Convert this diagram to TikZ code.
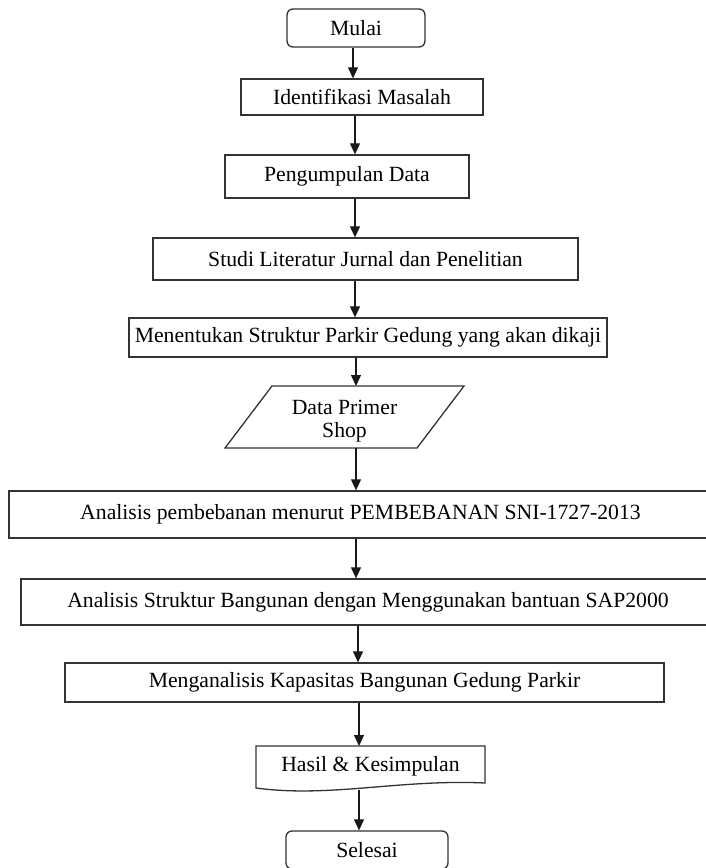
\documentclass[tikz,border=0pt]{standalone}
\usepackage{fontspec}
\setmainfont{Liberation Serif}
\usetikzlibrary{arrows.meta}
\begin{document}
\begin{tikzpicture}[x=0.5pt,y=-0.5pt,
  txt/.style={font=\fontsize{10.85}{11.5}\selectfont},
  box/.style={txt,draw=black!80,line width=0.65pt,rectangle,inner sep=0pt},
  term/.style={box,rounded corners=3pt},
  plain/.style={txt,inner sep=0pt,align=center},
  shapeline/.style={draw=black!80,line width=0.65pt},
  arr/.style={draw=black!90,line width=0.55pt,-{Triangle[length=5.5pt,width=5pt]}},
]
\useasboundingbox (0,0) rectangle (706,868);

% column coordinates for the connectors
\coordinate (cA) at (353,0);
\coordinate (cB) at (355,0);
\coordinate (cC) at (356,0);
\coordinate (cD) at (358,0);
\coordinate (dtop) at (356,386);
\coordinate (dbot) at (356,448);
\coordinate (htop) at (359,746);
\coordinate (hbot) at (359,790);

\node[term, minimum width=69pt, minimum height=19pt] (mulai) at (356,28) {Mulai};
\node[box, minimum width=121pt, minimum height=18pt] (ident) at (362,97) {Identifikasi Masalah};
\node[box, minimum width=122pt, minimum height=21.5pt] (peng) at (347,176.5) {Pengumpulan Data};
\node[box, minimum width=212.5pt, minimum height=21pt] (studi) at (365.5,259) {Studi Literatur Jurnal dan Penelitian};
\node[box, minimum width=239pt, minimum height=19.5pt] (ment) at (368,337.5) {Menentukan Struktur Parkir Gedung yang akan dikaji};

\draw[shapeline] (272,386) -- (464,386) -- (417,448) -- (225,448) -- cycle;
\node[plain] (data) at (344.5,421) {Data Primer\\Shop};

\node[box, minimum width=351.5pt, minimum height=23.5pt] (anal1) at (360.5,514.5) {Analisis pembebanan menurut PEMBEBANAN SNI-1727-2013};
\node[box, minimum width=347pt, minimum height=23pt] (anal2) at (368,602) {Analisis Struktur Bangunan dengan Menggunakan bantuan SAP2000};
\node[box, minimum width=299.5pt, minimum height=19.5pt] (mengan) at (364.5,682.5) {Menganalisis Kapasitas Bangunan Gedung Parkir};

\draw[shapeline] (256,788) -- (256,746) -- (485,746) -- (485,783)
  .. controls (400,779) and (330,798) .. (256,788) -- cycle;
\node[plain] (hasil) at (370.5,766) {Hasil \& Kesimpulan};

\node[term, minimum width=81pt, minimum height=19pt] (selesai) at (367,850) {Selesai};

\draw[arr] (mulai.south -| cA) -- (ident.north -| cA);
\draw[arr] (ident.south -| cB) -- (peng.north -| cB);
\draw[arr] (peng.south -| cB) -- (studi.north -| cB);
\draw[arr] (studi.south -| cB) -- (ment.north -| cB);
\draw[arr] (ment.south -| dtop) -- (dtop);
\draw[arr] (dbot) -- (anal1.north -| dbot);
\draw[arr] (anal1.south -| cC) -- (anal2.north -| cC);
\draw[arr] (anal2.south -| cD) -- (mengan.north -| cD);
\draw[arr] (mengan.south -| htop) -- (htop);
\draw[arr] (hbot) -- (selesai.north -| hbot);
\end{tikzpicture}
\end{document}
